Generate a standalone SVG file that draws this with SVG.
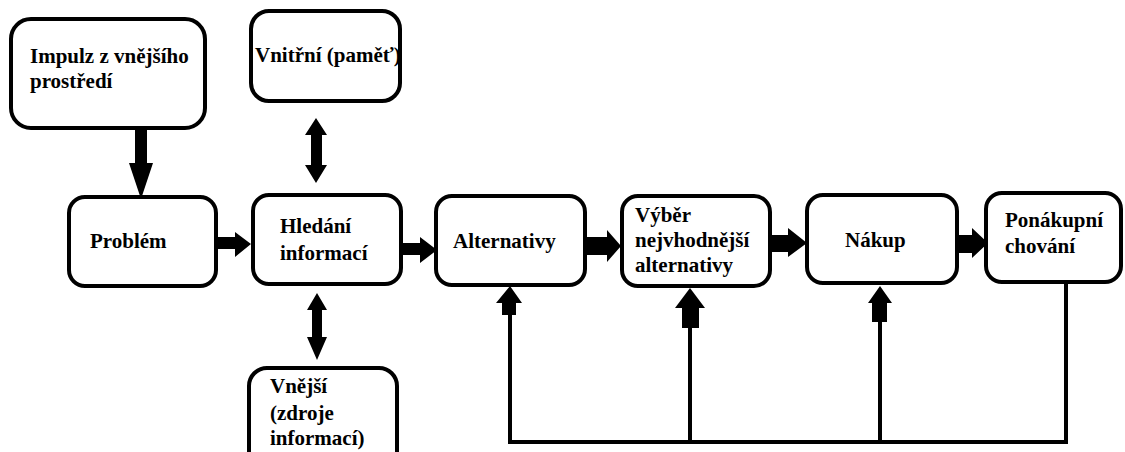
<svg xmlns="http://www.w3.org/2000/svg" width="1125" height="452" viewBox="0 0 1125 452">
<style>
.box{fill:#fff;stroke:#000;stroke-width:4}
.t{font-family:"Liberation Serif","Times New Roman",serif;font-weight:bold;font-size:21px;fill:#000}
.ar{fill:#000;stroke:none}
.ln{fill:none;stroke:#000;stroke-width:4}
</style>
<rect width="1125" height="452" fill="#fff"/>
<g id="impulz"><rect class="box" x="11" y="19" width="194" height="109" rx="20"/><text class="t" x="30" y="63">Impulz z vnějšího</text><text class="t" x="30" y="88">prostředí</text></g>
<g id="vnitrni"><rect class="box" x="251" y="11" width="149" height="90" rx="18"/><text class="t" x="255" y="62">Vnitřní (paměť)</text></g>
<g id="problem"><rect class="box" x="69" y="197" width="147" height="89" rx="16"/><text class="t" x="90" y="248">Problém</text></g>
<g id="hledani"><rect class="box" x="253" y="195" width="148" height="89" rx="16"/><text class="t" x="280" y="233">Hledání</text><text class="t" x="280" y="260">informací</text></g>
<g id="vnejsi"><rect class="box" x="249" y="368" width="148" height="110" rx="18"/><text class="t" x="270" y="393">Vnější</text><text class="t" x="270" y="420">(zdroje</text><text class="t" x="270" y="445">informací)</text></g>
<g id="alternativy"><rect class="box" x="436" y="196" width="149" height="89" rx="16"/><text class="t" x="453" y="248">Alternativy</text></g>
<g id="vyber"><rect class="box" x="622" y="196" width="148" height="90" rx="16"/><text class="t" x="635" y="222">Výběr</text><text class="t" x="635" y="247">nejvhodnější</text><text class="t" x="635" y="272">alternativy</text></g>
<g id="nakup"><rect class="box" x="807" y="195" width="150" height="88" rx="16"/><text class="t" x="845" y="247">Nákup</text></g>
<g id="ponakupni"><rect class="box" x="986" y="193" width="135" height="89" rx="16"/><text class="t" x="1005" y="227">Ponákupní</text><text class="t" x="1005" y="253">chování</text></g>
<g id="connectors">
<polygon class="ar" points="135,128 147,128 147,163 153,163 141,199 129,163 135,163"/>
<polygon class="ar" points="316,118 327,135 322,135 322,165 327,165 316,183 305,165 311,165 311,135 305,135"/>
<polygon class="ar" points="317,293 327,310 322,310 322,337 327,337 317,360 307,337 312,337 312,310 307,310"/>
<polygon class="ar" points="216,237 235,237 235,232 251,244 235,257 235,249 216,249"/>
<polygon class="ar" points="402,243 420,243 420,237 437,250 420,263 420,255 402,255"/>
<polygon class="ar" points="586,237 607,237 607,230 621,246 607,262 607,255 586,255"/>
<polygon class="ar" points="771,235 788,235 788,228 807,243 788,257 788,252 771,252"/>
<polygon class="ar" points="958,235 972,235 972,228 988,243 972,258 972,253 958,253"/>
<polygon class="ar" points="510,286 522,303 516,303 516,315 502,315 502,303 496,303"/>
<polygon class="ar" points="690,288 705,308 699,308 699,328 682,328 682,308 675,308"/>
<polygon class="ar" points="880,286 892,303 887,303 887,322 872,322 872,303 868,303"/>
<polyline class="ln" points="510,315 510,442 1066,442 1066,283"/>
<line class="ln" x1="690" y1="328" x2="690" y2="442"/>
<line class="ln" x1="880" y1="322" x2="880" y2="442"/>
</g>
</svg>
